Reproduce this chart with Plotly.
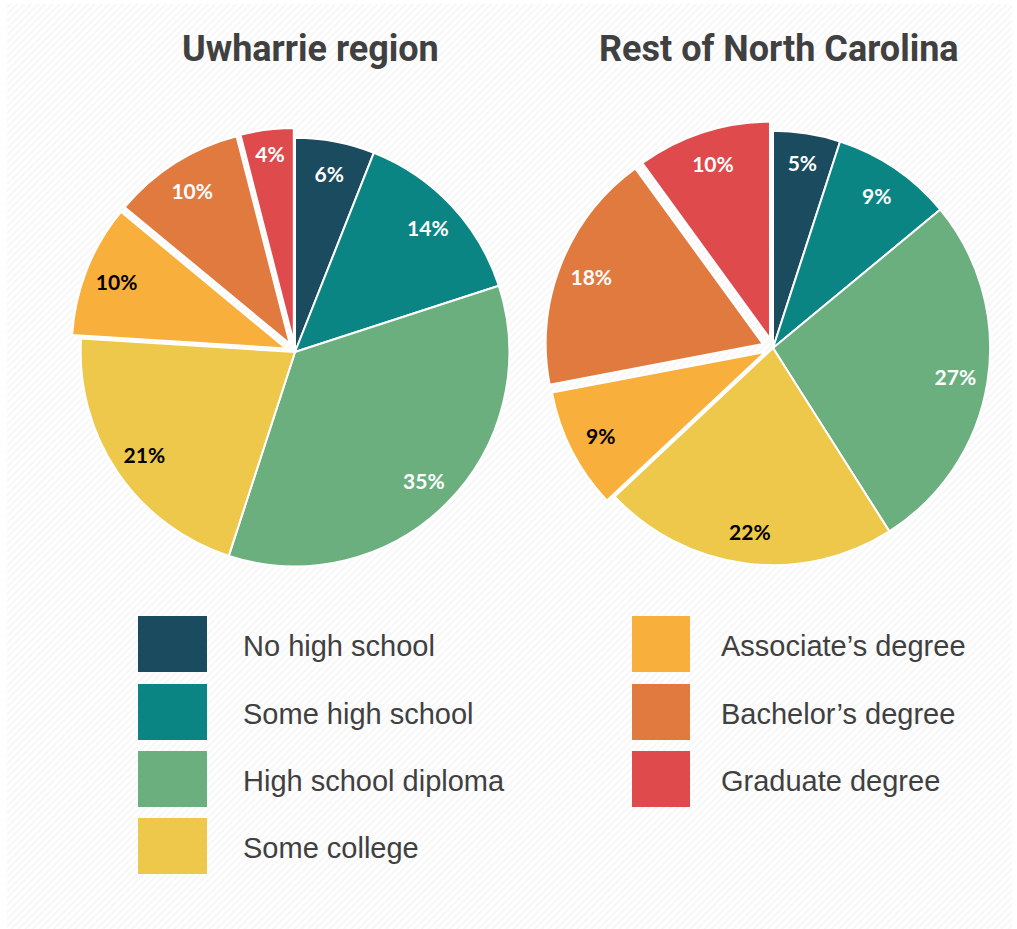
import plotly.graph_objects as go

# categories and values
categories = [
    "No high school",
    "Some high school",
    "High school diploma",
    "Some college",
    "Associate\u2019s degree",
    "Bachelor\u2019s degree",
    "Graduate degree",
]
uwharrie = [6, 14, 35, 21, 10, 10, 4]
rest_nc = [5, 9, 27, 22, 9, 18, 10]
titles = ["Uwharrie region", "Rest of North Carolina"]

colors = ["#1b4b5f", "#0a8583", "#6caf7f", "#edc84b", "#f9af3b", "#e07a3f", "#df4a4c"]
text_colors = ["white", "white", "white", "black", "black", "white", "white"]

W, H = 1017, 929
TEXT = "#404040"

fig = go.Figure()

# striped backdrop, drawn as a pattern-filled polygon on a hidden axis
fig.add_trace(
    go.Scatter(
        x=[0.007, 0.995, 0.995, 0.007, 0.007],
        y=[0.0, 0.0, 0.996, 0.996, 0.0],
        mode="lines",
        line=dict(width=0),
        fill="toself",
        fillcolor="white",
        fillpattern=dict(shape="/", fgcolor="#efefef", bgcolor="white", size=5, solidity=0.45),
        hoverinfo="skip",
        showlegend=False,
    )
)

pies = [
    (uwharrie, [0, 0, 0, 0, 0.045, 0.045, 0.045], [71, 519], [128, 576]),
    (rest_nc, [0, 0, 0, 0, 0.04, 0.05, 0.045], [545, 1001], [120, 576]),
]

for values, pull, (px0, px1), (py0, py1) in pies:
    domain = dict(x=[px0 / W, px1 / W], y=[1 - py1 / H, 1 - py0 / H])
    common = dict(
        labels=categories,
        values=values,
        pull=pull,
        domain=domain,
        sort=False,
        direction="clockwise",
        rotation=0,
        showlegend=False,
    )
    # the coloured slices
    fig.add_trace(
        go.Pie(
            marker=dict(colors=colors, line=dict(color="white", width=2)),
            textinfo="none",
            hoverinfo="label+value",
            **common,
        )
    )
    # transparent ring on top, so the percentages sit out towards the rim
    fig.add_trace(
        go.Pie(
            hole=0.7,
            marker=dict(colors=["rgba(0,0,0,0)"] * len(values), line=dict(width=0)),
            texttemplate="%{value}%",
            textposition="inside",
            insidetextorientation="horizontal",
            textfont=dict(family="Lato, Open Sans, sans-serif", size=21, color=text_colors, weight="bold"),
            hoverinfo="skip",
            **common,
        )
    )

# titles
for title, cx in zip(titles, [310, 779]):
    fig.add_annotation(
        x=cx / W, y=1 - 49 / H, xref="paper", yref="paper",
        xanchor="center", yanchor="middle",
        text=f"<b>{title}</b>", showarrow=False,
        font=dict(family="Roboto, Liberation Sans, sans-serif", size=36, color=TEXT),
    )

# legend built by hand: two columns of big swatches
legend_cols = [(138, 207, 241, categories[:4]), (632, 690, 719, categories[4:])]
row_tops = [616, 684, 751, 818]
shapes = []
idx = 0
for x0, x1, tx, names in legend_cols:
    for i, name in enumerate(names):
        top = row_tops[i]
        shapes.append(dict(
            type="rect", xref="paper", yref="paper",
            x0=x0 / W, x1=x1 / W, y0=1 - (top + 56) / H, y1=1 - top / H,
            fillcolor=colors[idx], line=dict(width=0),
        ))
        fig.add_annotation(
            x=tx / W, y=1 - (top + 30) / H, xref="paper", yref="paper",
            text=name, showarrow=False, xanchor="left", yanchor="middle",
            font=dict(family="Liberation Sans, Arial, sans-serif", size=29, color=TEXT),
        )
        idx += 1

fig.update_layout(
    width=W,
    height=H,
    margin=dict(l=0, r=0, t=0, b=0),
    paper_bgcolor="white",
    plot_bgcolor="rgba(0,0,0,0)",
    xaxis=dict(range=[0, 1], domain=[0, 1], visible=False, fixedrange=True),
    yaxis=dict(range=[0, 1], domain=[0, 1], visible=False, fixedrange=True),
    shapes=shapes,
)

# drop the browser's default page margin so the figure sits at the top-left corner
fig.write_html(
    "out.html",
    config={"displayModeBar": False},
    post_script="document.body.style.margin='0';",
)
